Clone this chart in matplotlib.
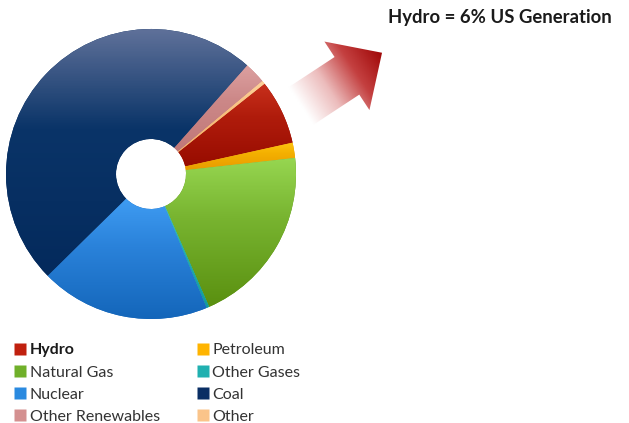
import numpy as np
import matplotlib
matplotlib.use("Agg")
import matplotlib.pyplot as plt
from matplotlib.colors import LinearSegmentedColormap
from matplotlib.lines import Line2D
from matplotlib.patches import FancyArrow

plt.rcParams['font.family'] = ['Lato', 'DejaVu Sans']

# === data: share of US generation (%), in drawing order (clockwise) ===
sources = ['Other Renewables', 'Other', 'Hydro', 'Petroleum',
           'Natural Gas', 'Other Gases', 'Nuclear', 'Coal']
shares = [2.4, 0.4, 7.2, 1.7, 20.2, 0.3, 18.9, 48.9]
# top / middle / bottom colour of each slice gradient
tops = ['#dca0a0', '#fcd29c', '#c8301c', '#ffc410', '#96d650', '#3cc4c4', '#3f9cf2', '#5e7099']
mids = ['#cc8888', '#f8c080', '#b01c0c', '#f4b000', '#78b430', '#24b0b0', '#2a82da', '#0a3468']
bottoms = ['#c07878', '#f4b068', '#980c00', '#e89c00', '#5a9010', '#129c9c', '#1466ba', '#042a5c']
legend_order = ['Hydro', 'Natural Gas', 'Nuclear', 'Other Renewables',
                'Petroleum', 'Other Gases', 'Coal', 'Other']
legend_colors = {'Hydro': '#c0200e', 'Petroleum': '#ffb400', 'Natural Gas': '#70b02a',
                 'Other Gases': '#20b0b0', 'Nuclear': '#2a8ae0', 'Coal': '#0a2e64',
                 'Other Renewables': '#d49090', 'Other': '#fac48a'}
title = 'Hydro = 6% US Generation'

W, H = 629, 423
fig = plt.figure(figsize=(W / 100, H / 100), dpi=100)
ax = fig.add_axes([0, 0, 1, 1])

cx, cy, r, hole = 151, 249, 145, 35
wedges, _ = ax.pie(shares, startangle=48.5, counterclock=False, center=(cx, cy),
                   radius=r, colors=bottoms,
                   wedgeprops=dict(width=r - hole, linewidth=0))

# gradient fill for each slice (lighter at the top)
for w, c1, cm, c2 in zip(wedges, tops, mids, bottoms):
    bb = w.get_path().get_extents()
    cmap = LinearSegmentedColormap.from_list('g', [(0, c2), (0.6, cm), (1, c1)])
    grad = np.linspace(0, 1, 100).reshape(-1, 1)
    im = ax.imshow(grad, cmap=cmap, origin='lower', aspect='auto',
                   extent=[bb.x0, bb.x1, bb.y0, bb.y1], zorder=2)
    im.set_clip_path(w)

# arrow pointing at the hydro slice
ux, uy = 35 / 41.9, 23 / 41.9
tx, ty, L = 301, 317, 97
arrow = FancyArrow(tx, ty, L * ux, L * uy, width=45, head_width=82, head_length=42,
                   length_includes_head=True, facecolor='none', edgecolor='none')
ax.add_patch(arrow)
xx, yy = np.meshgrid(np.linspace(270, 400, 200), np.linspace(280, 400, 200))
t = np.clip(((xx - tx) * ux + (yy - ty) * uy) / L, 0, 1)
acmap = LinearSegmentedColormap.from_list('a', ['#ffffff', '#ecbcbc', '#c44040', '#a00808'])
aim = ax.imshow(t, cmap=acmap, origin='lower', extent=[270, 400, 280, 400], zorder=3)
aim.set_clip_path(arrow)

ax.set_xlim(0, W)
ax.set_ylim(0, H)
ax.set_aspect('equal')
ax.axis('off')

fig.text(388 / W, 1 - 18 / H, title, ha='left', va='center',
         fontsize=13.3, fontweight='bold', color='#1a1a1a')

handles = [Line2D([], [], marker='s', linestyle='none', markersize=8,
                  markerfacecolor=legend_colors[s], markeredgecolor='none')
           for s in legend_order]
leg = ax.legend(handles, legend_order, ncol=2, loc='upper left',
                bbox_to_anchor=(4 / W, 1 - 332 / H), bbox_transform=fig.transFigure,
                frameon=False, fontsize=11.5, handlelength=0.6, handletextpad=0.3,
                columnspacing=2.4, labelspacing=0.5, borderpad=0.2)
for txt in leg.get_texts():
    txt.set_color('#333333')
    if txt.get_text() == 'Hydro':
        txt.set_fontweight('bold')
        txt.set_color('#1a1a1a')

fig.savefig('out.png', dpi=100)
